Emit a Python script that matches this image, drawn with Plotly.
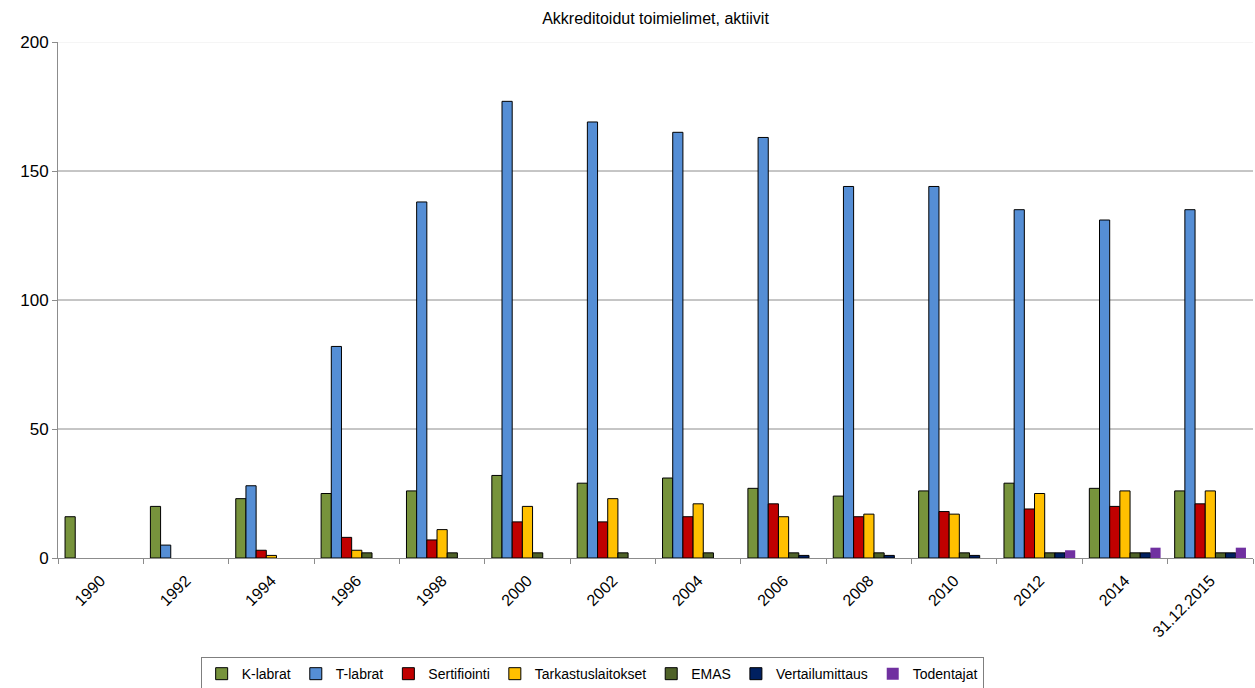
import plotly.graph_objects as go

categories = ["1990", "1992", "1994", "1996", "1998", "2000", "2002", "2004",
              "2006", "2008", "2010", "2012", "2014", "31.12.2015"]
k_labrat = [16, 20, 23, 25, 26, 32, 29, 31, 27, 24, 26, 29, 27, 26]
t_labrat = [None, 5, 28, 82, 138, 177, 169, 165, 163, 144, 144, 135, 131, 135]
sertifiointi = [None, None, 3, 8, 7, 14, 14, 16, 21, 16, 18, 19, 20, 21]
tarkastus = [None, None, 1, 3, 11, 20, 23, 21, 16, 17, 17, 25, 26, 26]
emas = [None, None, None, 2, 2, 2, 2, 2, 2, 2, 2, 2, 2, 2]
vertailu = [None, None, None, None, None, None, None, None, 1, 1, 1, 2, 2, 2]
todentajat = [None, None, None, None, None, None, None, None, None, None, None, 3, 4, 4]

series = [
    ("K-labrat", k_labrat, "#77933C", 1),
    ("T-labrat", t_labrat, "#558ED5", 1),
    ("Sertifiointi", sertifiointi, "#C00000", 1),
    ("Tarkastuslaitokset", tarkastus, "#FFC000", 1),
    ("EMAS", emas, "#4F6228", 1),
    ("Vertailumittaus", vertailu, "#002060", 1),
    ("Todentajat", todentajat, "#7030A0", 0),
]

grid_values = [50, 100, 150]
y_ticks = [0, 50, 100, 150, 200]

fig = go.Figure()
for name, vals, color, lw in series:
    fig.add_trace(go.Bar(
        x=categories, y=vals, name=name,
        marker=dict(color=color, line=dict(color="#000000", width=lw)),
    ))

for g in grid_values:
    fig.add_shape(type="line", xref="paper", x0=0, x1=1, yref="y", y0=g, y1=g,
                  line=dict(color="#8c8c8c", width=1), layer="below")
fig.add_shape(type="line", xref="paper", x0=0, x1=1, yref="y", y0=200, y1=200,
              line=dict(color="#ececec", width=1), layer="below")

fig.update_layout(
    width=1255, height=688,
    margin=dict(l=58, r=2, t=42, b=130, autoexpand=False),
    paper_bgcolor="white", plot_bgcolor="white",
    font=dict(family="Liberation Sans, Arial, sans-serif", color="#000000"),
    title=dict(text="Akkreditoidut toimielimet, aktiivit", x=0.5, xref="paper",
               y=0.973, yanchor="middle", font=dict(size=16)),
    barmode="group", bargap=0.165, bargroupgap=0,
    showlegend=True,
    legend=dict(orientation="h", x=0.447, xanchor="center", y=-0.192, yanchor="top",
                xref="paper", yref="paper",
                bordercolor="#7f7f7f", borderwidth=1, font=dict(size=14),
                itemwidth=30, tracegroupgap=0, traceorder="normal"),
    xaxis=dict(type="category", showgrid=False, showline=True, linecolor="#8c8c8c",
               ticks="outside", tickson="boundaries", ticklen=5, tickcolor="#8c8c8c",
               tickangle=-45, tickfont=dict(size=16), automargin=False,
               ticklabelstandoff=6),
    yaxis=dict(range=[0, 200], tickvals=y_ticks, showgrid=False, zeroline=False,
               showline=True, linecolor="#8c8c8c", ticks="outside", ticklen=5,
               tickcolor="#8c8c8c", tickfont=dict(size=17), automargin=False),
)

fig.write_html("out.html")
